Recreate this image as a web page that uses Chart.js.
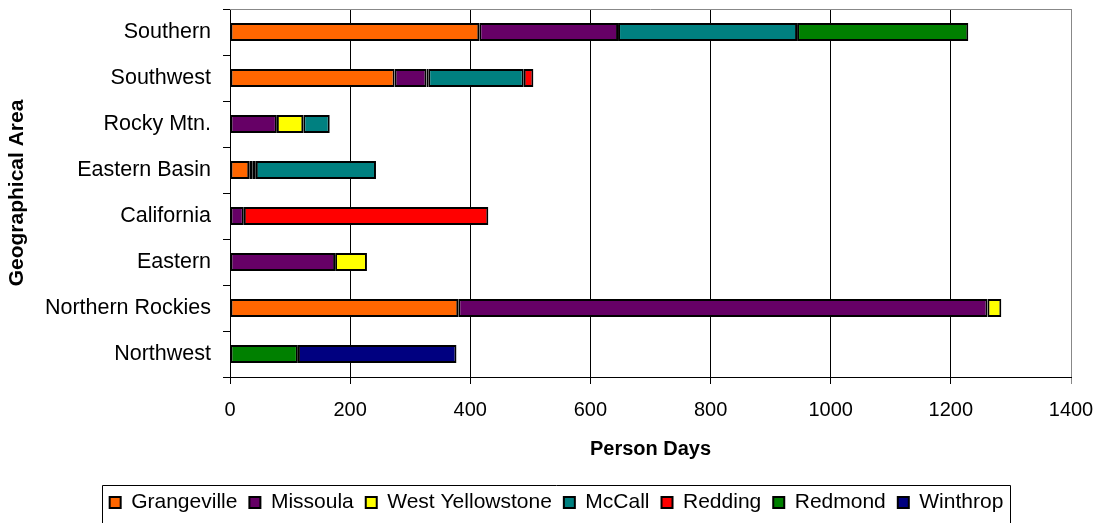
<!DOCTYPE html>
<html>
<head>
<meta charset="utf-8">
<script src="https://cdn.jsdelivr.net/npm/chart.js@4/dist/chart.umd.min.js"></script>
<style>
  html, body { margin: 0; padding: 0; background: #fff; }
  #wrap { width: 1102px; height: 523px; }
</style>
</head>
<body>
<div id="wrap"><canvas id="myChart" width="1102" height="523"></canvas></div>
<script>
// categories, top to bottom
const areas = ['Southern', 'Southwest', 'Rocky Mtn.', 'Eastern Basin', 'California', 'Eastern', 'Northern Rockies', 'Northwest'];

// person days per base (null = none)
const grangeville = [415, 274, null, 32, null, null, 380, null];
const missoula = [231, 53, 78, 5, 23, 175, 881, null];
const westYellowstone = [null, 3, 44, 6, null, 53, 23, null];
const mccall = [298, 159, 44, 200, null, null, null, null];
const redding = [null, 16, null, null, 407, null, null, null];
const redmond = [285, null, null, null, null, null, null, 113];
const winthrop = [null, null, null, null, null, null, null, 264];

const xTicks = [0, 200, 400, 600, 800, 1000, 1200, 1400];

const font = 'Liberation Sans, Arial, sans-serif';

function ds(label, data, color){
    return {
        label: label,
        data: data,
        backgroundColor: color,
        borderColor: '#000',
        borderWidth: 2,
        borderSkipped: false,
        barPercentage: 0.39,
        categoryPercentage: 1
    };
}

// gray frame on top of the plot + box round the legend
const frame = {
    id: 'frame',
    afterLayout(chart){
        // legend sits a bit right of centre in the original
        chart.legend.left += 21;
        chart.legend.right += 21;
    },
    afterDraw(chart){
        const c = chart.ctx, a = chart.chartArea, lg = chart.legend;
        c.save();
        c.strokeStyle = '#888';
        c.lineWidth = 1;
        c.beginPath();
        c.moveTo(a.left, a.top + 0.5);
        c.lineTo(a.right, a.top + 0.5);
        c.stroke();
        const w = lg.lineWidths[0];
        const cx = (lg.left + lg.right) / 2;
        const l = Math.round(cx - w / 2 - 2);
        c.strokeStyle = '#000';
        c.beginPath();
        c.rect(l + 0.5, 485.5, Math.round(w + 2), 45);
        c.stroke();
        c.restore();
    }
};

new Chart(document.getElementById('myChart'), {
    type: 'bar',
    data: {
        labels: areas,
        datasets: [
            ds('Grangeville', grangeville, '#FF6600'),
            ds('Missoula', missoula, '#660066'),
            ds('West Yellowstone', westYellowstone, '#FFFF00'),
            ds('McCall', mccall, '#008080'),
            ds('Redding', redding, '#FF0000'),
            ds('Redmond', redmond, '#008000'),
            ds('Winthrop', winthrop, '#000080')
        ]
    },
    options: {
        indexAxis: 'y',
        responsive: false,
        animation: false,
        devicePixelRatio: 1,
        layout: { padding: { left: 0, top: 9, right: 31, bottom: 0 } },
        scales: {
            x: {
                stacked: true,
                min: 0,
                max: 1400,
                afterBuildTicks: (s) => { s.ticks = xTicks.map(v => ({ value: v })); },
                afterFit: (s) => { s.height = 103; s.paddingLeft = 0; s.paddingRight = 0; },
                grid: {
                    color: (ctx) => (ctx.tick && ctx.tick.value === 1400) ? '#888' : '#000',
                    lineWidth: 1,
                    tickLength: 7,
                    drawTicks: true
                },
                border: { color: '#000', width: 1 },
                ticks: {
                    color: '#000',
                    font: { family: font, size: 20 },
                    padding: 14,
                    maxRotation: 0,
                    callback: (v) => String(v)
                },
                title: {
                    display: true,
                    text: 'Person Days',
                    color: '#000',
                    font: { family: font, size: 20, weight: 'bold' },
                    padding: { top: 4, bottom: 19 }
                }
            },
            y: {
                stacked: true,
                afterFit: (s) => { s.width = 230; s.paddingTop = 0; s.paddingBottom = 0; },
                grid: {
                    drawOnChartArea: false,
                    tickLength: 7,
                    color: '#000'
                },
                border: { color: '#000', width: 1 },
                ticks: {
                    color: '#000',
                    font: { family: font, size: 21.5 },
                    padding: 12
                },
                title: {
                    display: true,
                    text: 'Geographical Area',
                    color: '#000',
                    font: { family: font, size: 21, weight: 'bold' },
                    padding: { top: 5, bottom: 0 }
                }
            }
        },
        plugins: {
            legend: {
                position: 'bottom',
                labels: {
                    color: '#000',
                    font: { family: font, size: 21 },
                    boxWidth: 11,
                    boxHeight: 11,
                    padding: 12
                }
            },
            tooltip: { enabled: false }
        }
    },
    plugins: [frame]
});
</script>
</body>
</html>
